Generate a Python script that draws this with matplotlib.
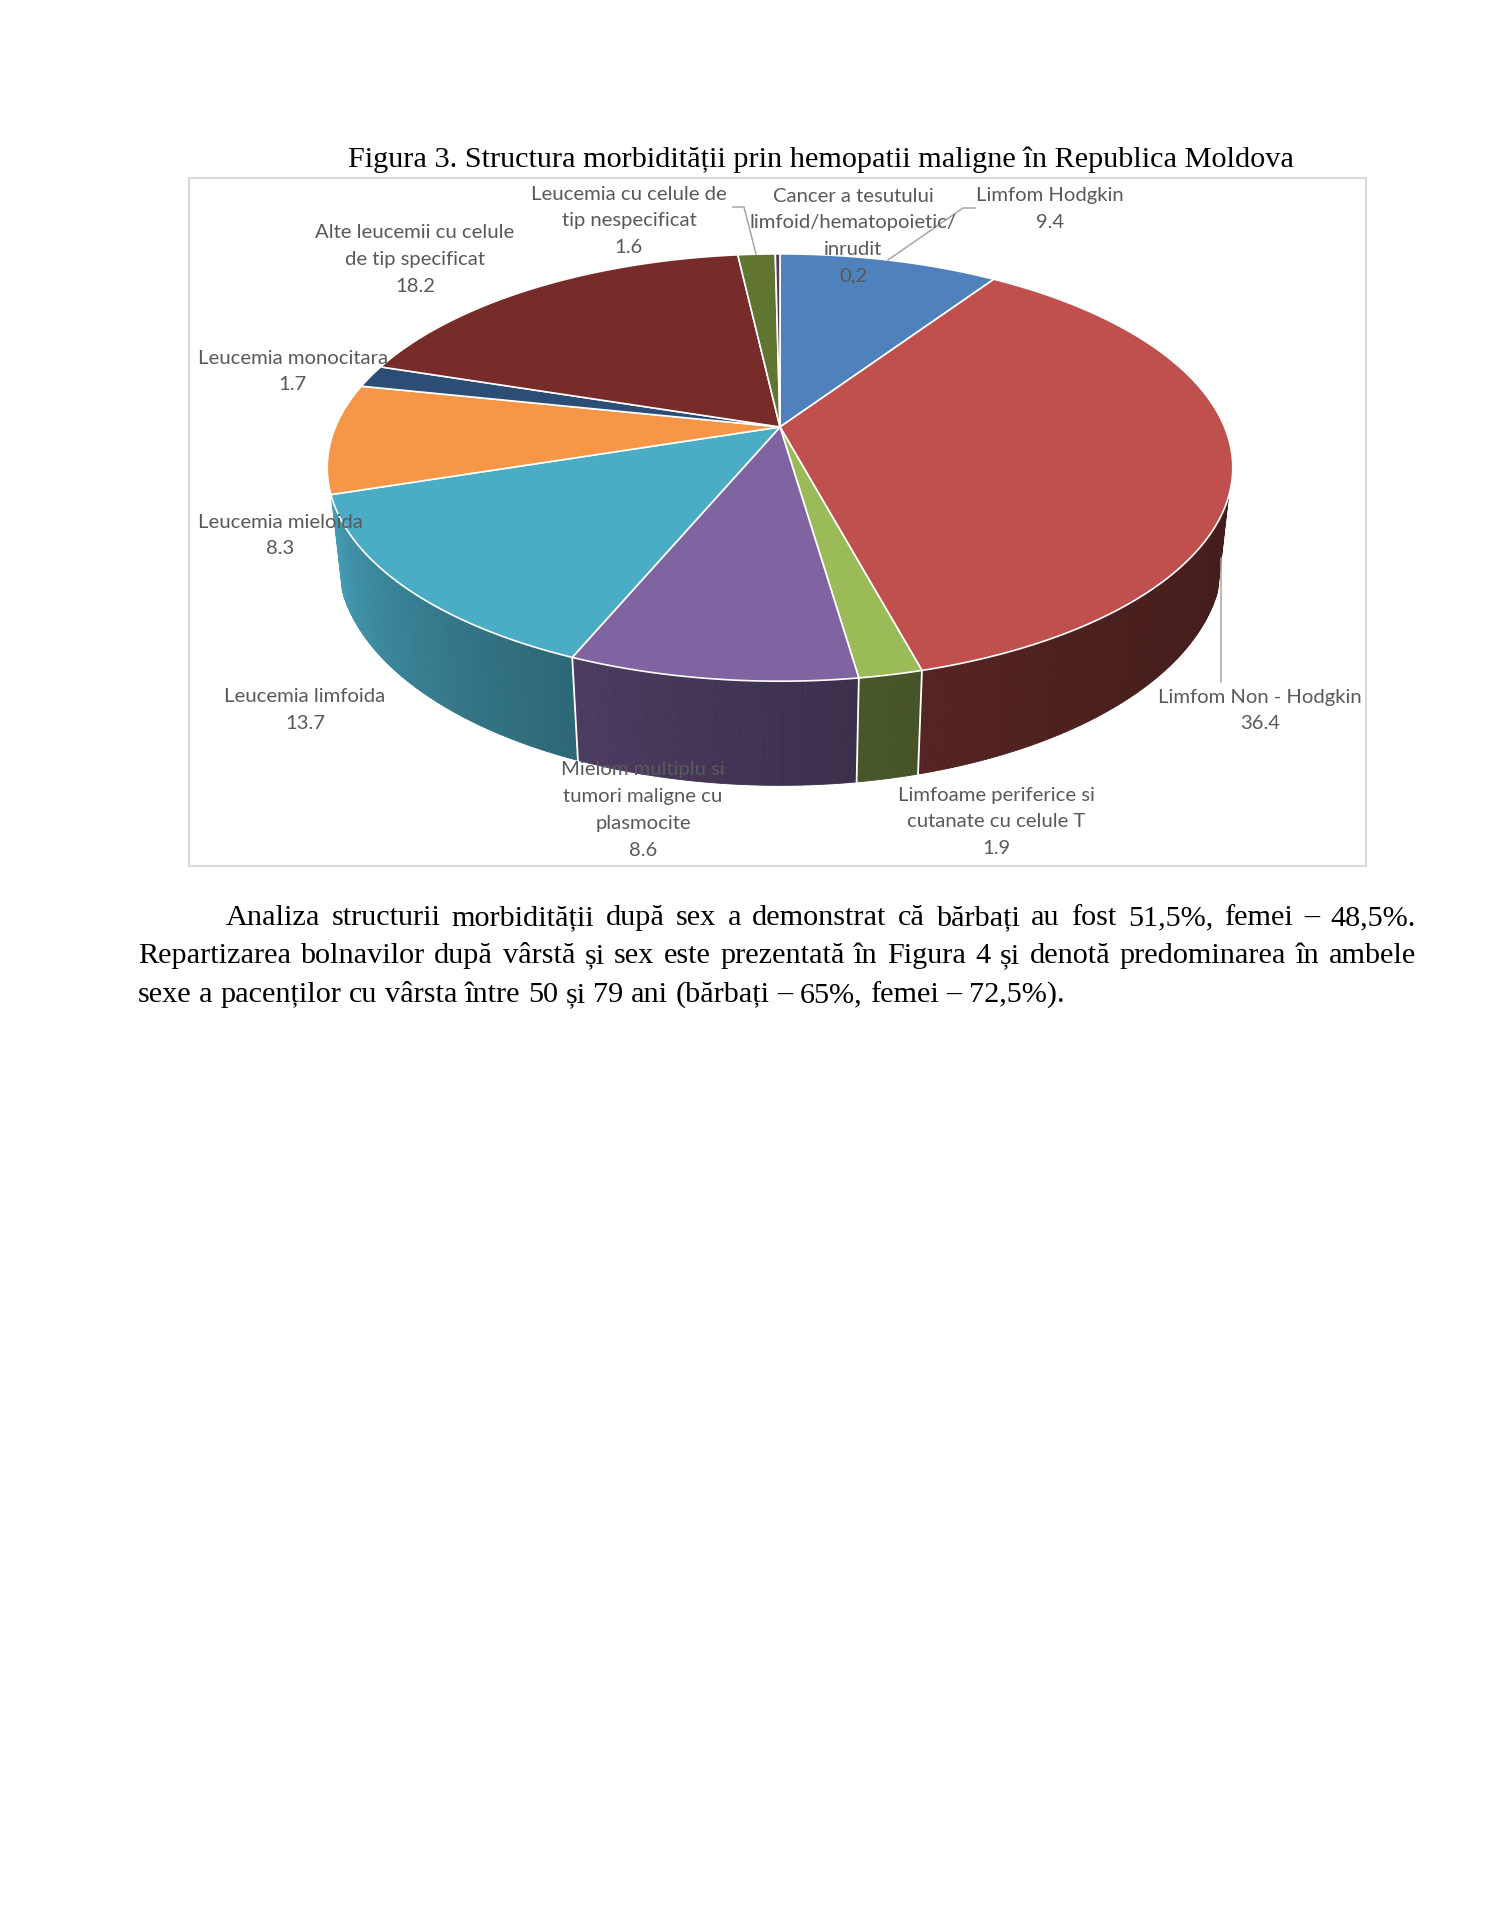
import numpy as np
import matplotlib
matplotlib.use('Agg')
import matplotlib.pyplot as plt
from matplotlib.patches import Polygon, Rectangle
from matplotlib.colors import to_rgb

# data: slices in clockwise order from 12 o'clock
names = ['Limfom Hodgkin',
         'Limfom Non - Hodgkin',
         'Limfoame periferice si\ncutanate cu celule T',
         'Mielom multiplu si\ntumori maligne cu\nplasmocite',
         'Leucemia limfoida',
         'Leucemia mieloida',
         'Leucemia monocitara',
         'Alte leucemii cu celule\nde tip specificat',
         'Leucemia cu celule de\ntip nespecificat',
         'Cancer a tesutului\nlimfoid/hematopoietic/\ninrudit']
values = np.array([9.4, 36.4, 1.9, 8.6, 13.7, 8.3, 1.7, 18.2, 1.6, 0.2])
value_text = ['9.4', '36.4', '1.9', '8.6', '13.7', '8.3', '1.7', '18.2', '1.6', '0,2']
colors = ['#4F81BD', '#C0504D', '#9BBB59', '#8064A2', '#4BACC6',
          '#F79646', '#2C4D75', '#772C2A', '#5F7530', '#4D3B62']

title = 'Figura 3. Structura morbidității prin hemopatii maligne în Republica Moldova'
para = ['Analiza structurii morbidității după sex a demonstrat că bărbați au fost 51,5%, femei – 48,5%.',
        'Repartizarea bolnavilor după vârstă și sex este prezentată în Figura 4 și denotă predominarea în ambele',
        'sexe a pacenților cu vârsta între 50 și 79 ani (bărbați – 65%, femei – 72,5%).']

# layout (pixels of the page)
W, Hpx = 1488, 1925
cx, cy = 780, 427              # pie apex on screen
F, D = 2076.0, 4.67            # perspective
tilt = np.radians(27.6)
depth = 0.2355
c, s = np.cos(tilt), np.sin(tilt)

# label anchors: centre x, first line y
label_pos = [(1050, 196), (1260, 697), (996, 795), (643, 770), (305, 697),
             (280, 522), (293, 358), (415, 233), (629, 194), (853, 196)]
line_h = 26.7
leaders = [[(975, 208), (963, 208), (888, 260)],
           [(1221, 558), (1221, 682)],
           [(733, 207), (744, 207), (756, 254)]]
body_size = 21.8


def project(theta, h):
    X, Z = np.sin(theta), np.cos(theta)
    yc = h * c + Z * s
    d = D + Z * c - h * s
    return cx + F * X / d, cy - F * yc / d


fig = plt.figure(figsize=(W / 100, Hpx / 100), dpi=100)
ax = fig.add_axes([0, 0, 1, 1])
ax.set_xlim(0, W)
ax.set_ylim(Hpx, 0)
ax.axis('off')

ax.add_patch(Rectangle((189, 178), 1366 - 189, 866 - 178, fill=False,
                       ec='#D9D9D9', lw=1.5, zorder=1))

edges = np.radians(np.concatenate([[0], np.cumsum(values)]) / values.sum() * 360)
# wall part facing the viewer (edge-on strips near the silhouette dropped)
vis_lo = np.arccos(-1 / (D * c)) + np.radians(4.5)
vis_hi = 2 * np.pi - vis_lo

# side walls
for i in range(len(values)):
    a, b = max(edges[i], vis_lo), min(edges[i + 1], vis_hi)
    if b <= a:
        continue
    n = max(2, int(np.degrees(b - a) * 2))
    th = np.linspace(a, b, n + 1)
    base = np.array(to_rgb(colors[i]))
    for t0, t1 in zip(th[:-1], th[1:]):
        u = ((t0 + t1) / 2 - vis_lo) / (vis_hi - vis_lo)
        shade = np.clip(base * (0.36 + 0.55 * u ** 2), 0, 1)
        x0, y0 = project(t0, 0)
        x1, y1 = project(t1, 0)
        x2, y2 = project(t1, -depth)
        x3, y3 = project(t0, -depth)
        ax.add_patch(Polygon([(x0, y0), (x1, y1), (x2, y2), (x3, y3)],
                             closed=True, fc=shade, ec=shade, lw=0.6, zorder=2))

for e in edges:
    if vis_lo < e < vis_hi:
        x0, y0 = project(e, 0)
        x1, y1 = project(e, -depth)
        ax.plot([x0, x1], [y0, y1], color='white', lw=1.3, zorder=3)

# top faces
for i in range(len(values)):
    th = np.linspace(edges[i], edges[i + 1], max(3, int(np.degrees(edges[i + 1] - edges[i]) * 2)))
    xs, ys = project(th, 0)
    pts = [(cx, cy)] + list(zip(xs, ys))
    ax.add_patch(Polygon(pts, closed=True, fc=colors[i], ec='white', lw=1.2,
                         joinstyle='round', zorder=4))

# leaders
for pts in leaders:
    xs, ys = zip(*pts)
    ax.plot(xs, ys, color='#A6A6A6', lw=1.1, zorder=5)

# data labels
for i, (x, y) in enumerate(label_pos):
    lines = names[i].split('\n') + [value_text[i]]
    for k, ln in enumerate(lines):
        ax.text(x, y + k * line_h, ln, ha='center', va='center', fontsize=14.6,
                family='Lato', color='#595959', zorder=6)

# caption and paragraph
serif = 'Liberation Serif'
ax.text(821, 167, title, ha='center', va='baseline', fontsize=body_size, family=serif, color='black')

renderer = fig.canvas.get_renderer()


def put_line(text, x0, x1, y, justify):
    words = text.split(' ')
    objs = [ax.text(0, y, w, ha='left', va='baseline', fontsize=body_size, family=serif,
                    color='black') for w in words]
    widths = [o.get_window_extent(renderer).width for o in objs]
    if justify:
        gap = (x1 - x0 - sum(widths)) / (len(words) - 1)
    else:
        t1 = ax.text(0, 0, 'x x', fontsize=body_size, family=serif)
        t2 = ax.text(0, 0, 'xx', fontsize=body_size, family=serif)
        gap = t1.get_window_extent(renderer).width - t2.get_window_extent(renderer).width
        t1.remove()
        t2.remove()
    x = x0
    for o, w in zip(objs, widths):
        o.set_x(x)
        x += w + gap


put_line(para[0], 226, 1416, 925, True)
put_line(para[1], 138, 1416, 963, True)
put_line(para[2], 138, 1416, 1002, False)

fig.savefig('out.png', dpi=100, facecolor='white')
